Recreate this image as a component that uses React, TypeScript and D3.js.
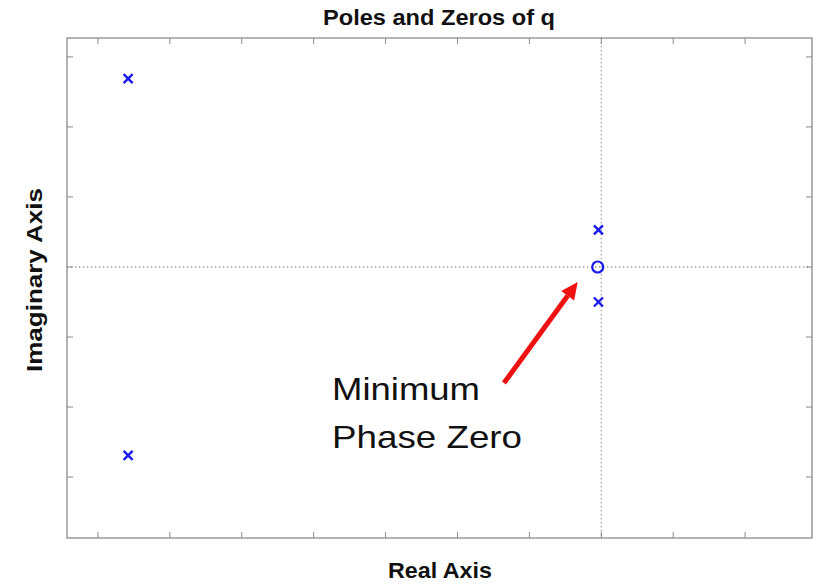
import React from "react";
import * as d3 from "d3";

const W = 815, H = 584;
const xTicks = [-7, -6, -5, -4, -3, -2, -1, 0, 1, 2];
const yTicks = [-3, -2, -1, 0, 1, 2, 3];
const xDomain = [-7.43, 2.93];
const yDomain = [-3.87, 3.27];
const poleRe = [-6.58, -6.58, -0.04, -0.04];
const poleIm = [2.69, -2.69, 0.53, -0.5];
const zeroRe = [-0.05];
const zeroIm = [0];
const title = "Poles and Zeros of q";
const xLabel = "Real Axis";
const yLabel = "Imaginary Axis";
const noteLines = ["Minimum", "Phase Zero"];
const noteWidths = [148, 190];

export default function App() {
  const L = 67, R = 812, T = 38, B = 538;
  const x = d3.scaleLinear().domain(xDomain).range([L, R]);
  const y = d3.scaleLinear().domain(yDomain).range([B, T]);
  const frame = "#8a8a8a";
  const blue = "#1a1aee";
  const tl = 6;
  const sans = "'Liberation Sans', Arial, sans-serif";
  // arrow
  const ax0 = 504, ay0 = 383;
  const ax1 = x(zeroRe[0]) - 20, ay1 = y(zeroIm[0]) + 15;
  const ang = Math.atan2(ay1 - ay0, ax1 - ax0);
  const hl = 17, hw = 8;
  const bx = ax1 - hl * Math.cos(ang), by = ay1 - hl * Math.sin(ang);
  const px = -Math.sin(ang), py = Math.cos(ang);
  const head = `M${ax1},${ay1} L${bx + hw * px},${by + hw * py} L${bx - hw * px},${by - hw * py} Z`;
  return (
    <svg width={W} height={H} style={{ position: "absolute", left: 0, top: 0, background: "#fff" }}>
      <rect x={0} y={0} width={W} height={H} fill="#fff" />
      <text x={323} y={25} textLength={232} lengthAdjust="spacingAndGlyphs" fontFamily={sans} fontWeight="bold" fontSize={22} fill="#111">{title}</text>
      {/* grid lines through origin */}
      <line x1={x(0)} x2={x(0)} y1={T} y2={B} stroke="#999" strokeWidth={1.3} strokeDasharray="1.3,2.7" />
      <line x1={L} x2={R} y1={y(0)} y2={y(0)} stroke="#999" strokeWidth={1.3} strokeDasharray="1.3,2.7" />
      {/* ticks */}
      {xTicks.map((t) => (
        <g key={"x" + t}>
          <line x1={x(t)} x2={x(t)} y1={B} y2={B - tl} stroke={frame} strokeWidth={1} />
          <line x1={x(t)} x2={x(t)} y1={T} y2={T + tl} stroke={frame} strokeWidth={1} />
        </g>
      ))}
      {yTicks.map((t) => (
        <g key={"y" + t}>
          <line x1={L} x2={L + tl} y1={y(t)} y2={y(t)} stroke={frame} strokeWidth={1} />
          <line x1={R} x2={R - tl} y1={y(t)} y2={y(t)} stroke={frame} strokeWidth={1} />
        </g>
      ))}
      <rect x={L} y={T} width={R - L} height={B - T} fill="none" stroke={frame} strokeWidth={1.3} />
      {/* poles */}
      {poleRe.map((re, i) => {
        const cx = x(re), cy = y(poleIm[i]), s = 4.5;
        return (
          <path key={"p" + i} d={`M${cx - s},${cy - s}L${cx + s},${cy + s}M${cx - s},${cy + s}L${cx + s},${cy - s}`} stroke={blue} strokeWidth={2.4} fill="none" />
        );
      })}
      {zeroRe.map((re, i) => (
        <circle key={"z" + i} cx={x(re)} cy={y(zeroIm[i])} r={5.5} fill="none" stroke={blue} strokeWidth={2.2} />
      ))}
      {/* annotation */}
      <line x1={ax0} y1={ay0} x2={bx} y2={by} stroke="#ee1111" strokeWidth={5} />
      <path d={head} fill="#ee1111" />
      {noteLines.map((s, i) => (
        <text key={s} x={332} y={400 + i * 48} textLength={noteWidths[i]} lengthAdjust="spacingAndGlyphs" fontFamily={sans} fontSize={32} fill="#111">{s}</text>
      ))}
      <text x={388} y={578} textLength={104} lengthAdjust="spacingAndGlyphs" fontFamily={sans} fontWeight="bold" fontSize={22} fill="#111">{xLabel}</text>
      <text transform={`translate(42,372) rotate(-90)`} textLength={184} lengthAdjust="spacingAndGlyphs" fontFamily={sans} fontWeight="bold" fontSize={22} fill="#111">{yLabel}</text>
    </svg>
  );
}
